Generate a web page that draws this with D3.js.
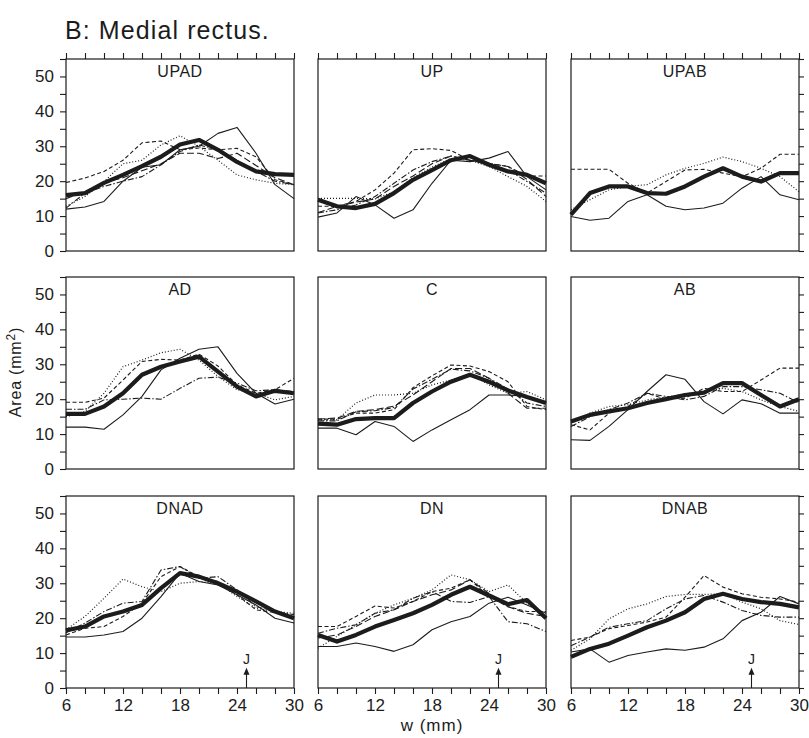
<!DOCTYPE html>
<html>
<head>
<meta charset="utf-8">
<script src="https://cdn.jsdelivr.net/npm/d3@7"></script>
<style>
  body { margin: 0; background: #fff; }
  svg { font-family: "Liberation Sans", Arial, sans-serif; }
</style>
</head>
<body>
<script>
// x positions (mm) where the cross-sections were sampled
var xs = [6, 8, 10, 12, 14, 16, 18, 20, 22, 24, 26, 28, 30];
var xTicks = [6, 8, 10, 12, 14, 16, 18, 20, 22, 24, 26, 28, 30];
var xLabels = [6, 12, 18, 24, 30];
var yTicks = [0, 5, 10, 15, 20, 25, 30, 35, 40, 45, 50, 55];
var yLabels = [0, 10, 20, 30, 40, 50];
var jPos = 25;

// series order: mean, solid, dash, longdash, dot, dashdot
var seriesNames = ["mean", "solid", "dash", "longdash", "dot", "dashdot"];

var upad = [
  [16, 16.6, 19.5, 21.8, 24.3, 27, 30.5, 31.8, 29, 25.5, 22.8, 22, 21.8],
  [12, 12.6, 14.2, 20, 24, 24.7, 29, 30, 33.7, 35.4, 28, 19, 15],
  [19.6, 20.9, 22.8, 26, 31, 31.5, 29, 29.5, 29, 29.4, 27, 20.4, 19],
  [15, 17, 19.5, 21, 23, 25, 28, 28, 26.5, 28, 24.5, 21, 19],
  [12.8, 15.6, 19.9, 25, 26, 30.4, 33, 30, 26, 21.8, 20.4, 19.4, 19],
  [12.3, 16.6, 18.5, 20, 21.3, 24.7, 28.5, 30.4, 29, 26, 22.8, 20, 19]
];
var up = [
  [14.7, 12.8, 12.3, 13.5, 16.6, 20.4, 23.2, 26, 27.2, 24.7, 22.8, 21.8, 19.4],
  [9.7, 10.9, 15.6, 13.2, 9.4, 11.8, 19.4, 26, 25.6, 26.6, 28.5, 21.3, 17.5],
  [12.8, 12.8, 14.2, 17.5, 22.3, 29, 29.3, 28.8, 26, 25.1, 24.2, 21.5, 21.5],
  [11, 12.8, 14, 14.9, 18.5, 21.5, 25, 27.2, 26, 25.1, 24.2, 20.5, 15.6],
  [15.1, 15.1, 15.1, 14.9, 17, 21, 24, 26.5, 26, 24.2, 21.3, 18.5, 14.2],
  [10.9, 11.8, 13.2, 15.6, 19.4, 23.2, 25.6, 27.2, 26, 24.7, 23.2, 19.9, 16.6]
];
var upab = [
  [10.4, 16.6, 18.5, 18.5, 16.6, 16.4, 18.5, 21.3, 23.7, 21.3, 19.9, 22.3, 22.3],
  [9.9, 8.8, 9.4, 14.2, 16.1, 12.8, 11.8, 12.3, 13.7, 18, 21.3, 16.1, 14.7],
  [23.4, 23.4, 23.4, 19.4, 16.6, 19.9, 23.2, 23.4, 22.3, 21.3, 23.7, 27.7, 27.7],
  null,
  [11.8, 14.7, 17.5, 18.5, 19, 21.8, 23.7, 25.1, 26.9, 25.6, 23.7, 21.3, 17],
  null
];
var ad = [
  [15.8, 15.8, 17.9, 21.7, 27, 29.3, 30.8, 32.2, 27.9, 23.6, 20.8, 22.4, 21.7],
  [12, 12, 11.4, 15.5, 20.8, 28.4, 31.7, 34.3, 35, 27.4, 21.7, 18.6, 20],
  [19.1, 19.1, 20.3, 25.5, 30.8, 31.4, 31.2, 32.9, 29.5, 24.1, 21.7, 22.7, 26],
  null,
  [15, 16.5, 21.7, 29.3, 31.2, 33.3, 34.3, 31.2, 26.5, 22.7, 21.7, 19.8, 20.8],
  [17.1, 17.1, 19.8, 20, 20.3, 20, 23.1, 26, 26.3, 24.6, 22.4, 22.7, 22.2]
];
var c = [
  [13, 12.7, 14.3, 14.6, 14.6, 18.9, 22.2, 25, 27, 25, 22.5, 20.6, 18.9],
  [11.7, 11.7, 9.8, 13.6, 12.2, 7.9, 11.2, 14.1, 17, 21.2, 21.2, 20.8, 18.9],
  [14.3, 14.3, 16, 16, 17, 23.3, 26.7, 29.8, 29.5, 27.9, 25, 17.9, 17],
  [14.3, 14.6, 16.5, 17, 18, 21.2, 25, 28.8, 28.8, 26, 21.7, 17.4, 17.4],
  [14.1, 14.1, 18.9, 21.2, 21.2, 21.7, 24.1, 25.5, 27.4, 24.1, 21.7, 22.2, 19.8],
  [13.8, 13.8, 16.4, 16.7, 17.6, 22.9, 25.7, 28.6, 28.1, 26, 22.9, 18.9, 17.9]
];
var ab = [
  [13.6, 15.5, 16.5, 17.4, 18.9, 20, 21.2, 21.9, 24.6, 24.6, 21.2, 17.9, 20],
  [8.4, 8.2, 12.2, 17, 22.2, 27, 25.7, 19.3, 15.8, 19.8, 18.7, 16, 16],
  [12.7, 11.2, 16, 17.9, 21.7, 20, 20.3, 23.1, 22.2, 22.2, 25.5, 28.9, 28.9],
  null,
  [13.1, 16, 17.9, 18.4, 19.8, 20.6, 21.5, 22.2, 23.1, 22.2, 19.8, 17.9, 16.5],
  [12.2, 15, 17, 18.9, 21.7, 20.8, 19.8, 20.8, 23.6, 23.6, 22.7, 21.7, 18.9]
];
var dnad = [
  [16.5, 17.6, 20.5, 21.9, 23.8, 28.6, 32.9, 31.9, 30, 27.6, 24.8, 21.9, 20],
  [14.6, 14.6, 15.2, 16.2, 20, 26.2, 32.9, 30.5, 29.5, 26.7, 23.8, 20, 18.6],
  [15.2, 17.1, 17.6, 20.5, 24.3, 31.9, 34.8, 31.9, 30.5, 26.7, 22.4, 21.6, 20.5],
  null,
  [16.7, 20.5, 25.7, 31.2, 29, 27.6, 30, 30.5, 30, 26.2, 22.9, 21.9, 21.4],
  [15.8, 18.6, 21.9, 24.3, 24.8, 33.8, 34.8, 31.4, 31.9, 28.1, 23.3, 21.9, 21]
];
var dn = [
  [15.2, 13.3, 15.2, 17.6, 19.5, 21.4, 23.8, 26.7, 29, 26.5, 24, 25.2, 20],
  [11.9, 11.9, 12.9, 11.9, 10.5, 12.4, 16.7, 19, 20.5, 24.3, 26, 23.8, 21.4],
  [17.6, 17.6, 20.5, 23.5, 22.9, 24.8, 27.6, 28.6, 31, 26.2, 23.3, 21.9, 21.9],
  [14.3, 15.2, 17.6, 20.5, 22.4, 24.8, 26.7, 28.1, 31, 27.1, 23.3, 21.4, 20.5],
  [11.4, 14.8, 18.1, 21.4, 23.8, 25.7, 28.1, 32.4, 31, 27.6, 29.5, 24.3, 20.5],
  [15.7, 17.1, 18.1, 21.4, 22.4, 25.7, 27.6, 24.8, 24.5, 26.2, 19, 18.4, 16.2]
];
var dnab = [
  [8.9, 11.2, 12.7, 15, 17.4, 19.3, 21.7, 25.5, 27, 25.5, 24.6, 24.1, 23.1],
  [10.3, 11.2, 7.4, 9.3, 10.3, 11.2, 10.8, 11.7, 14.1, 19.3, 21.7, 26.2, 24.1],
  [13.6, 14.6, 17, 17.9, 18.9, 20.3, 26, 32.2, 28.9, 27, 26, 25.5, 24.6],
  null,
  [10.8, 14.1, 19.8, 22.7, 24.1, 26.2, 26.8, 26.8, 27, 24.6, 22.7, 19.3, 18.2],
  [12.1, 14.6, 17.4, 18.4, 19.3, 22.7, 25.5, 26.5, 24.6, 22.2, 20.8, 20.3, 20.3]
];

var panelNames = ["UPAD", "UP", "UPAB", "AD", "C", "AB", "DNAD", "DN", "DNAB"];
var panelData = [upad, up, upab, ad, c, ab, dnad, dn, dnab];

// line looks
var ink = "#1c1c1c";
var widths = { mean: 4.2, solid: 1.1, dash: 1.1, longdash: 1.1, dot: 1.2, dashdot: 1.1 };
var dashes = { mean: null, solid: null, dash: "4,2.5", longdash: "7,3", dot: "1,2", dashdot: "6,2,1.5,2" };

var colLeft = [66, 318, 571];
var rowTop = [59, 277, 496];
var pw = 228, ph = 192;

var svg = d3.select("body").append("svg").attr("width", 809).attr("height", 738);

svg.append("text")
    .attr("x", 65).attr("y", 39)
    .attr("font-size", 25)
    .attr("letter-spacing", 1.1)
    .attr("fill", ink)
    .text("B: Medial rectus.");

svg.append("text")
    .attr("transform", "translate(21,372) rotate(-90)")
    .attr("text-anchor", "middle")
    .attr("font-size", 16)
    .attr("letter-spacing", 0.8)
    .attr("fill", ink)
    .html('Area (mm<tspan dy="-6" font-size="12">2</tspan><tspan dy="6">)</tspan>');

svg.append("text")
    .attr("x", 432).attr("y", 731)
    .attr("text-anchor", "middle")
    .attr("font-size", 17)
    .attr("letter-spacing", 1)
    .attr("fill", ink)
    .text("w (mm)");

panelNames.forEach(function(name, i) {
  var row = Math.floor(i / 3), col = i % 3;
  var x0 = colLeft[col], y0 = rowTop[row];
  var x = d3.scaleLinear().domain([6, 30]).range([x0, x0 + pw]);
  var y = d3.scaleLinear().domain([0, 55]).range([y0 + ph, y0]);
  var g = svg.append("g");

  var line = d3.line()
      .x(function(d, k) { return x(xs[k]); })
      .y(function(d) { return y(d); });

  var series = panelData[i].map(function(v, k) { return { kind: seriesNames[k], values: v }; })
      .filter(function(s) { return s.values; });
  // thin lines first, thick mean on top
  series.push(series.shift());

  g.selectAll("path.series")
    .data(series)
    .enter().append("path")
      .attr("class", "series")
      .attr("d", function(s) { return line(s.values); })
      .attr("fill", "none")
      .attr("stroke", ink)
      .attr("stroke-width", function(s) { return widths[s.kind]; })
      .attr("stroke-dasharray", function(s) { return dashes[s.kind]; })
      .attr("stroke-linejoin", "round");

  g.append("rect")
      .attr("x", x0).attr("y", y0)
      .attr("width", pw).attr("height", ph)
      .attr("fill", "none")
      .attr("stroke", ink)
      .attr("stroke-width", 1.2);

  g.append("text")
      .attr("x", x0 + pw / 2).attr("y", y0 + 18)
      .attr("text-anchor", "middle")
      .attr("font-size", 16)
      .attr("letter-spacing", 0.5)
      .attr("fill", ink)
      .text(name);

  if (row === 0) {
    g.append("g")
        .attr("transform", "translate(0," + y0 + ")")
        .call(d3.axisTop(x).tickValues(xTicks).tickSize(6).tickSizeOuter(0).tickFormat(""));
  }
  if (row === 2) {
    var bx = g.append("g")
        .attr("transform", "translate(0," + (y0 + ph) + ")")
        .call(d3.axisBottom(x).tickValues(xTicks).tickSize(6).tickSizeOuter(0).tickPadding(5)
          .tickFormat(function(d) { return xLabels.indexOf(d) >= 0 ? d : ""; }));
    bx.selectAll("text").attr("font-size", 17);

    // junction marker
    var jy = y(0);
    g.append("line")
        .attr("x1", x(jPos)).attr("x2", x(jPos))
        .attr("y1", jy).attr("y2", y(4.5))
        .attr("stroke", ink).attr("stroke-width", 1.1);
    g.append("path")
        .attr("d", "M" + x(jPos) + "," + y(5.8) + "l-3,7h6z")
        .attr("fill", ink);
    g.append("text")
        .attr("x", x(jPos)).attr("y", y(6.9))
        .attr("text-anchor", "middle")
        .attr("font-size", 14)
        .attr("fill", ink)
        .text("J");
  }
  if (col === 0) {
    var ly = g.append("g")
        .attr("transform", "translate(" + x0 + ",0)")
        .call(d3.axisLeft(y).tickValues(yTicks).tickSize(6).tickSizeOuter(0).tickPadding(6)
          .tickFormat(function(d) { return yLabels.indexOf(d) >= 0 ? d : ""; }));
    ly.selectAll("text").attr("font-size", 17);
  }
  if (col === 2) {
    g.append("g")
        .attr("transform", "translate(" + (x0 + pw) + ",0)")
        .call(d3.axisRight(y).tickValues(yTicks).tickSize(5).tickSizeOuter(0).tickFormat(""));
  }
});

svg.selectAll(".domain").remove();
svg.selectAll(".tick line").attr("stroke", ink).attr("stroke-width", 1.1);
svg.selectAll(".tick text").attr("fill", ink).attr("font-family", "Liberation Sans, Arial, sans-serif");
</script>
</body>
</html>
